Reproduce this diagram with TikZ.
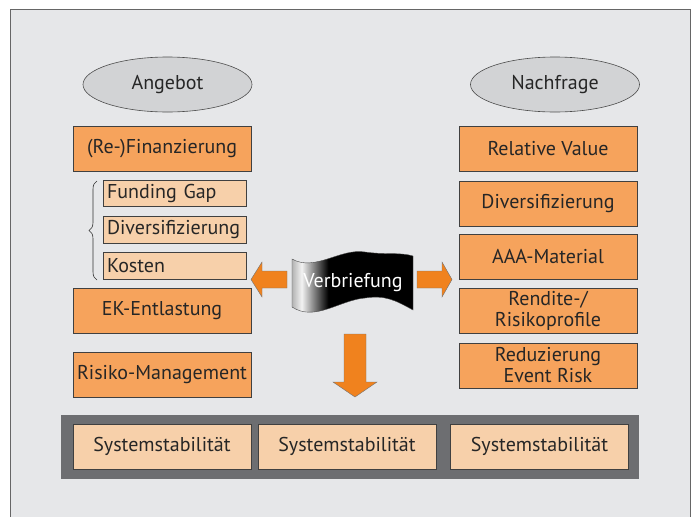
\documentclass[tikz,border=0pt]{standalone}
\usepackage{fontspec}
\setmainfont{PT Sans}
\usetikzlibrary{shapes.geometric,decorations.pathreplacing}
\definecolor{bgc}{HTML}{E6E7E9}
\definecolor{ellc}{HTML}{D2D3D5}
\definecolor{orng}{HTML}{F6A35C}
\definecolor{lorng}{HTML}{F7D0AA}
\definecolor{bandc}{HTML}{6D6E71}
\definecolor{arrc}{HTML}{F0821E}
\definecolor{txtc}{HTML}{262626}
\pgfdeclarehorizontalshading{flagshade}{100bp}{color(0bp)=(gray!60); color(25bp)=(gray!60); color(29bp)=(gray!10); color(40bp)=(black); color(100bp)=(black)}
\begin{document}
\begin{tikzpicture}[x=1pt,y=-1pt,
  every node/.style={text=txtc,font=\fontsize{20}{21}\selectfont,inner sep=0pt},
  bigbox/.style={draw=black!75,line width=0.6pt,fill=orng,minimum width=178pt,minimum height=45pt,align=center},
  smallbox/.style={draw=black!75,line width=0.6pt,fill=lorng,minimum width=143pt,minimum height=26.5pt,text width=135pt,align=left},
  basebox/.style={draw=black!75,line width=0.6pt,fill=lorng,minimum width=178pt,minimum height=45pt},
  ell/.style={ellipse,draw=black!70,line width=0.6pt,fill=ellc,minimum width=169pt,minimum height=55pt},
  blockarrow/.style={fill=arrc,draw=black!55,line width=0.4pt}]
\useasboundingbox (0,0) rectangle (697,517);
\fill[white] (0,0) rectangle (697,517);
\draw[fill=bgc,draw=black!60,line width=1pt] (10,9) rectangle (690,530);

% ellipses
\node[ell] (ang) at (167.5,84.5) {Angebot};
\node[ell] (nach) at (555,84.5) {Nachfrage};

% left column
\node[bigbox] (refi) at (162,148.5) {(Re-)Finanzierung};
\node[smallbox] (fund) at (174.5,193.5) {Funding Gap};
\node[smallbox] (divl) at (174.5,230) {Diversifizierung};
\node[smallbox] (kost) at (174.5,266) {Kosten};
\node[bigbox] (ek) at (162,310.5) {EK-Entlastung};
\node[bigbox] (risk) at (162,374.5) {Risiko-Management};

% brace
\draw[black!80,line width=0.6pt,decorate,decoration={brace,amplitude=8pt}] (97,280) -- (97,181);

% right column
\node[bigbox] (rv) at (548,148.5) {Relative Value};
\node[bigbox] (divr) at (548,203.5) {Diversifizierung};
\node[bigbox] (aaa) at (548,256.5) {AAA-Material};
\node[bigbox] (rend) at (548,310.5) {Rendite-/\\Risikoprofile};
\node[bigbox] (red) at (548,365.5) {Reduzierung\\Event Risk};

% flag
\path[shading=flagshade,draw=black!70,line width=0.4pt]
  (292,259) .. controls (315,272) and (340,248) .. (365,252)
  .. controls (385,255) and (400,252) .. (413,256)
  -- (413,310)
  .. controls (395,300) and (385,295) .. (365,298)
  .. controls (340,300) and (315,322) .. (292,307) -- cycle;
\node[text=white] (verb) at (353,283) {Verbriefung};

% block arrows
\draw[blockarrow] (287,271) -- (262,271) -- (262,262) -- (251,279.5) -- (262,297) -- (262,288) -- (287,288) -- cycle;
\draw[blockarrow] (417,271) -- (442,271) -- (442,262) -- (452,279.5) -- (442,297) -- (442,288) -- (417,288) -- cycle;
\draw[blockarrow] (344,334) -- (366,334) -- (366,382) -- (377,382) -- (355,397) -- (333,382) -- (344,382) -- cycle;

% bottom band
\fill[bandc] (61,415) rectangle (639,479);
\node[basebox] (s1) at (162,446.5) {Systemstabilität};
\node[basebox] (s2) at (347,446.5) {Systemstabilität};
\node[basebox] (s3) at (539.5,446.5) {Systemstabilität};
\end{tikzpicture}
\end{document}
